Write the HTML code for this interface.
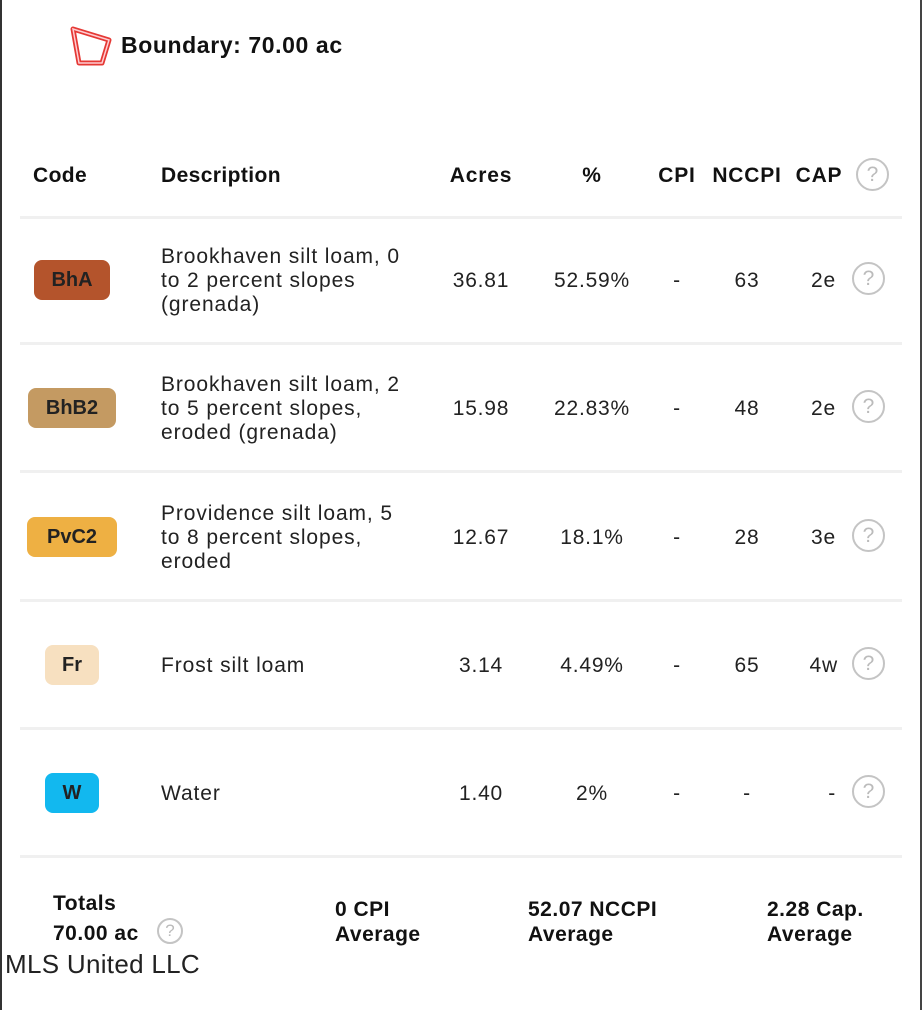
<!DOCTYPE html>
<html><head><meta charset="utf-8"><style>
body{margin:0;width:924px;height:1010px;background:#fff;position:relative;overflow:hidden;font-family:"Liberation Sans",sans-serif;color:#111}
.a{position:absolute;white-space:nowrap}
.h{font-weight:bold;font-size:21px;top:164px;letter-spacing:0.4px}
.c{transform:translateX(-50%);font-size:21px;color:#222;letter-spacing:0.8px}
.sep{position:absolute;left:20px;width:882px;height:3px;background:#f0f0f0}
.b{position:absolute;height:40px;border-radius:8px;font-weight:bold;font-size:20px;display:flex;align-items:center;justify-content:center;color:#222}
.q{position:absolute;width:29px;height:29px;border:2px solid #c4c4c4;border-radius:50%;color:#bbb;font-size:21px;display:flex;align-items:center;justify-content:center}
.d{font-size:21px;line-height:24px;color:#222;left:161px;letter-spacing:0.9px}
.t{font-weight:bold;font-size:21px;line-height:25px;letter-spacing:0.5px}
.r{font-size:21px;color:#222;letter-spacing:0.8px}
</style></head><body>
<div style="position:absolute;left:0;top:0;width:2px;height:1010px;background:#333"></div>
<div style="position:absolute;right:2px;top:0;width:2px;height:1010px;background:#444"></div>
<svg class="a" style="left:68px;top:24px" width="46" height="44"><polygon points="5,5 41,16 34,39 11,39" fill="none" stroke="#e53935" stroke-width="5" stroke-linejoin="round"/><polygon points="5,5 41,16 34,39 11,39" fill="none" stroke="#ffcdd2" stroke-width="1.5"/></svg>
<div class="a" style="left:121px;top:32px;font-weight:bold;font-size:23px;letter-spacing:0.6px">Boundary: 70.00 ac</div>
<div class="a h" style="left:33px">Code</div>
<div class="a h" style="left:161px">Description</div>
<div class="a h c" style="left:481px;color:#111;font-weight:bold">Acres</div>
<div class="a h c" style="left:592px;color:#111;font-weight:bold">%</div>
<div class="a h c" style="left:677px;color:#111;font-weight:bold">CPI</div>
<div class="a h c" style="left:747px;color:#111;font-weight:bold">NCCPI</div>
<div class="a h c" style="left:819px;color:#111;font-weight:bold">CAP</div>
<div class="q" style="left:856px;top:158px">?</div>
<div class="sep" style="top:216px"></div>
<div class="sep" style="top:342px"></div>
<div class="sep" style="top:470px"></div>
<div class="sep" style="top:599px"></div>
<div class="sep" style="top:727px"></div>
<div class="sep" style="top:855px"></div>

<div class="b" style="left:34px;top:260px;width:76px;background:#b4542c">BhA</div>
<div class="a d" style="top:245px">Brookhaven silt loam, 0<br>to 2 percent slopes<br>(grenada)</div>
<div class="a c" style="left:481px;top:269px">36.81</div><div class="a c" style="left:592px;top:269px">52.59%</div><div class="a c" style="left:677px;top:269px">-</div><div class="a c" style="left:747px;top:269px">63</div><div class="a r" style="right:88px;top:269px">2e</div>
<div class="q" style="left:852px;top:262px">?</div>

<div class="b" style="left:28px;top:388px;width:88px;background:#c49a62">BhB2</div>
<div class="a d" style="top:373px">Brookhaven silt loam, 2<br>to 5 percent slopes,<br>eroded (grenada)</div>
<div class="a c" style="left:481px;top:397px">15.98</div><div class="a c" style="left:592px;top:397px">22.83%</div><div class="a c" style="left:677px;top:397px">-</div><div class="a c" style="left:747px;top:397px">48</div><div class="a r" style="right:88px;top:397px">2e</div>
<div class="q" style="left:852px;top:390px">?</div>

<div class="b" style="left:27px;top:517px;width:90px;background:#eeb043">PvC2</div>
<div class="a d" style="top:502px">Providence silt loam, 5<br>to 8 percent slopes,<br>eroded</div>
<div class="a c" style="left:481px;top:526px">12.67</div><div class="a c" style="left:592px;top:526px">18.1%</div><div class="a c" style="left:677px;top:526px">-</div><div class="a c" style="left:747px;top:526px">28</div><div class="a r" style="right:88px;top:526px">3e</div>
<div class="q" style="left:852px;top:519px">?</div>

<div class="b" style="left:45px;top:645px;width:54px;background:#f7e0c0">Fr</div>
<div class="a d" style="top:654px">Frost silt loam</div>
<div class="a c" style="left:481px;top:654px">3.14</div><div class="a c" style="left:592px;top:654px">4.49%</div><div class="a c" style="left:677px;top:654px">-</div><div class="a c" style="left:747px;top:654px">65</div><div class="a r" style="right:86px;top:654px">4w</div>
<div class="q" style="left:852px;top:647px">?</div>

<div class="b" style="left:45px;top:773px;width:54px;background:#12b8ef">W</div>
<div class="a d" style="top:782px">Water</div>
<div class="a c" style="left:481px;top:782px">1.40</div><div class="a c" style="left:592px;top:782px">2%</div><div class="a c" style="left:677px;top:782px">-</div><div class="a c" style="left:747px;top:782px">-</div><div class="a r" style="right:88px;top:782px">-</div>
<div class="q" style="left:852px;top:775px">?</div>

<div class="a t" style="left:53px;top:889px;line-height:30px">Totals<br>70.00 ac</div>
<div class="q" style="left:157px;top:918px;width:22px;height:22px;font-size:17px">?</div>
<div class="a t" style="left:335px;top:897px">0 CPI<br>Average</div>
<div class="a t" style="left:528px;top:897px">52.07 NCCPI<br>Average</div>
<div class="a t" style="left:767px;top:897px">2.28 Cap.<br>Average</div>
<div class="a" style="left:5px;top:949px;font-size:26px;color:#222;letter-spacing:0.3px">MLS United LLC</div>
</body></html>
